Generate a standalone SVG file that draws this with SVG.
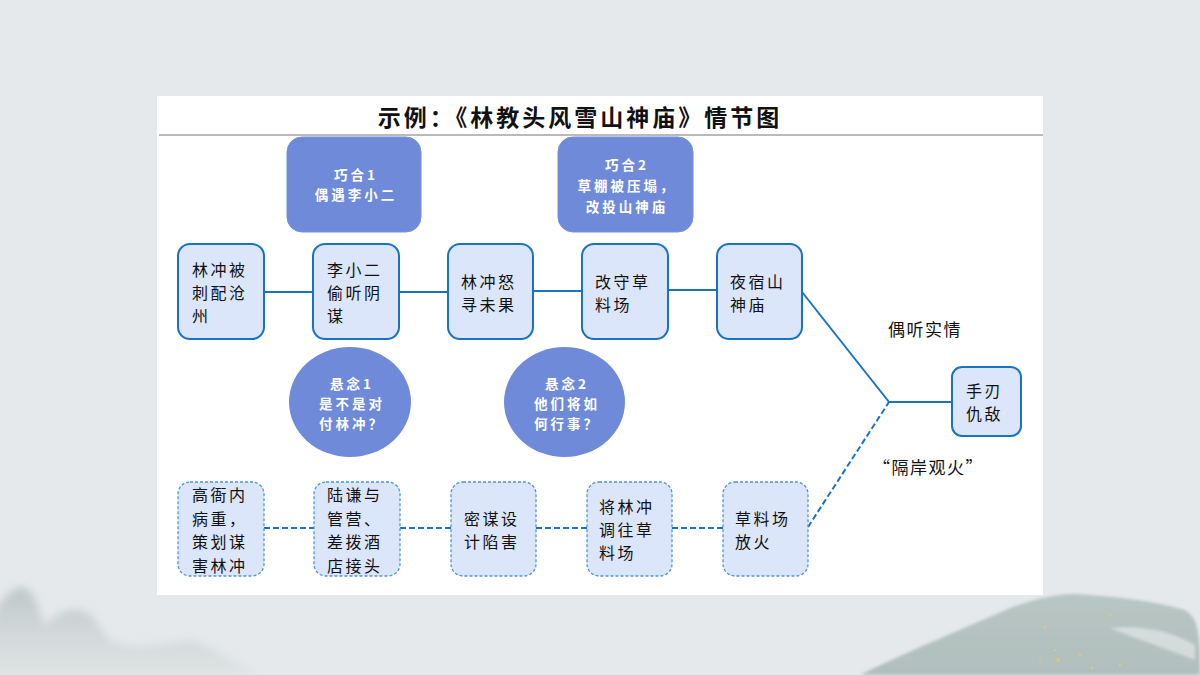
<svg xmlns="http://www.w3.org/2000/svg" width="1200" height="675" viewBox="0 0 1200 675">
<defs>
<style>
.t{font-family:"Noto Sans CJK SC","Liberation Serif",sans-serif;}
.node{fill:#dce6fb;stroke:#1a73c2;stroke-width:2;}
.dnode{fill:#dce6fb;stroke:#4a97d8;stroke-width:1.3;stroke-dasharray:3 2;}
.nt{font-family:"Noto Sans CJK SC",sans-serif;font-size:16px;letter-spacing:2.5px;fill:#111;}
.pur{fill:#6f8ad9;stroke:#7590dc;stroke-width:1;}
.pt{font-family:"Noto Sans CJK SC",sans-serif;font-size:13.5px;letter-spacing:3px;font-weight:bold;fill:#fff;text-anchor:middle;}
.ln{stroke:#1a73c2;stroke-width:2;fill:none;}
.dl{stroke:#1a73c2;stroke-width:2;fill:none;stroke-dasharray:6 3;}
.lab{font-family:"Noto Sans CJK SC",sans-serif;font-size:17px;letter-spacing:1.5px;fill:#111;}
</style>
<linearGradient id="mtn" x1="0" y1="0" x2="0" y2="1">
<stop offset="0" stop-color="#b8c3c3" stop-opacity="0.9"/>
<stop offset="1" stop-color="#d6dcdc" stop-opacity="0.5"/>
</linearGradient>
<linearGradient id="mtn2" x1="0" y1="0" x2="0" y2="1">
<stop offset="0" stop-color="#a9bab7"/>
<stop offset="1" stop-color="#9fb1ad"/>
</linearGradient>
<filter id="soft" x="-10%" y="-20%" width="120%" height="140%"><feGaussianBlur stdDeviation="4"/></filter>
<filter id="soft2" x="-10%" y="-20%" width="120%" height="140%"><feGaussianBlur stdDeviation="1.5"/></filter>
</defs>
<rect width="1200" height="675" fill="#e6e9eb"/>
<g id="background">
<path d="M-10 675 L-5 610 C5 595 15 585 25 588 C35 592 38 610 45 625 C55 615 65 608 80 610 C95 613 100 630 110 640 C130 650 160 645 190 640 C210 645 230 660 260 675 Z" fill="url(#mtn)" filter="url(#soft)"/>
<path d="M860 675 C900 655 960 630 1010 608 C1040 597 1060 594 1075 594 C1110 596 1150 600 1185 610 C1200 618 1200 640 1200 675 Z" fill="url(#mtn2)" opacity="0.75" filter="url(#soft2)"/>
<path d="M1110 628 C1140 625 1170 630 1195 645 L1195 660 C1170 650 1140 640 1110 628 Z" fill="#dde3e3" opacity="0.8" filter="url(#soft2)"/>
<g fill="#e8c77a" opacity="0.8">
<circle cx="1045" cy="627" r="1.5"/><circle cx="1055" cy="650" r="1.2"/><circle cx="1058" cy="660" r="2"/><circle cx="1080" cy="655" r="1.3"/><circle cx="1110" cy="615" r="1.5"/><circle cx="1092" cy="668" r="1.4"/><circle cx="1040" cy="662" r="1.1"/><circle cx="1120" cy="665" r="1.2"/>
</g>
</g>
<rect x="157" y="96" width="886" height="499" fill="#ffffff"/>
<line x1="159" y1="135" x2="1043" y2="135" stroke="#777" stroke-width="1.2"/>
<text class="t" x="580" y="126" font-size="23" letter-spacing="3" font-weight="bold" text-anchor="middle" fill="#111">示例：《林教头风雪山神庙》情节图</text>

<g id="connectors">
<line class="ln" x1="264" y1="292" x2="313" y2="292"/>
<line class="ln" x1="399" y1="292" x2="448" y2="292"/>
<line class="ln" x1="533" y1="291" x2="582" y2="291"/>
<line class="ln" x1="668" y1="290" x2="717" y2="290"/>
<line class="ln" x1="802" y1="292" x2="889" y2="402"/>
<line class="ln" x1="889" y1="402" x2="952" y2="402"/>
<line class="dl" x1="264" y1="528" x2="314" y2="528"/>
<line class="dl" x1="400" y1="528" x2="451" y2="528"/>
<line class="dl" x1="536" y1="528" x2="587" y2="528"/>
<line class="dl" x1="672" y1="528" x2="723" y2="528"/>
<line class="dl" x1="808" y1="527" x2="889" y2="402"/>
</g>

<g id="qiaohe1">
<rect class="pur" x="287" y="137" width="134" height="95" rx="15"/>
<text class="pt" x="356" y="180">巧合1</text>
<text class="pt" x="356" y="200">偶遇李小二</text>
</g>
<g id="qiaohe2">
<rect class="pur" x="558" y="137" width="135" height="95" rx="15"/>
<text class="pt" x="627" y="170">巧合2</text>
<text class="pt" x="627" y="191">草棚被压塌，</text>
<text class="pt" x="627" y="212">改投山神庙</text>
</g>

<g id="n1">
<rect class="node" x="178" y="244" width="86" height="95" rx="12"/>
<text class="nt"><tspan x="192" y="276">林冲被</tspan><tspan x="192" y="299">刺配沧</tspan><tspan x="192" y="322">州</tspan></text>
</g>
<g id="n2">
<rect class="node" x="313" y="244" width="86" height="95" rx="12"/>
<text class="nt"><tspan x="327" y="276">李小二</tspan><tspan x="327" y="299">偷听阴</tspan><tspan x="327" y="322">谋</tspan></text>
</g>
<g id="n3">
<rect class="node" x="448" y="244" width="85" height="95" rx="12"/>
<text class="nt"><tspan x="461" y="288">林冲怒</tspan><tspan x="461" y="311">寻未果</tspan></text>
</g>
<g id="n4">
<rect class="node" x="582" y="244" width="86" height="95" rx="12"/>
<text class="nt"><tspan x="595" y="288">改守草</tspan><tspan x="595" y="311">料场</tspan></text>
</g>
<g id="n5">
<rect class="node" x="717" y="244" width="85" height="95" rx="12"/>
<text class="nt"><tspan x="730" y="288">夜宿山</tspan><tspan x="730" y="311">神庙</tspan></text>
</g>

<g id="xuannian1">
<ellipse cx="350" cy="402" rx="61" ry="55" fill="#6f8ad9"/>
<text class="pt" x="352" y="389">悬念1</text>
<text class="pt" x="352" y="409">是不是对</text>
<text class="pt" x="352" y="429">付林冲？</text>
</g>
<g id="xuannian2">
<ellipse cx="564.5" cy="402" rx="60.5" ry="55" fill="#6f8ad9"/>
<text class="pt" x="567" y="389">悬念2</text>
<text class="pt" x="567" y="409">他们将如</text>
<text class="pt" x="567" y="429">何行事？</text>
</g>

<g id="b1">
<rect class="dnode" x="178" y="482" width="86" height="94" rx="12"/>
<text class="nt"><tspan x="192" y="501">高衙内</tspan><tspan x="192" y="524.5">病重，</tspan><tspan x="192" y="548">策划谋</tspan><tspan x="192" y="571.5">害林冲</tspan></text>
</g>
<g id="b2">
<rect class="dnode" x="314" y="482" width="86" height="94" rx="12"/>
<text class="nt"><tspan x="327" y="501">陆谦与</tspan><tspan x="327" y="524.5">管营、</tspan><tspan x="327" y="548">差拨酒</tspan><tspan x="327" y="571.5">店接头</tspan></text>
</g>
<g id="b3">
<rect class="dnode" x="451" y="482" width="85" height="94" rx="12"/>
<text class="nt"><tspan x="464" y="525">密谋设</tspan><tspan x="464" y="548">计陷害</tspan></text>
</g>
<g id="b4">
<rect class="dnode" x="587" y="482" width="85" height="94" rx="12"/>
<text class="nt"><tspan x="599" y="513">将林冲</tspan><tspan x="599" y="536">调往草</tspan><tspan x="599" y="559">料场</tspan></text>
</g>
<g id="b5">
<rect class="dnode" x="723" y="482" width="85" height="94" rx="12"/>
<text class="nt"><tspan x="735" y="525">草料场</tspan><tspan x="735" y="548">放火</tspan></text>
</g>

<g id="end">
<rect class="node" x="952" y="367" width="69" height="69" rx="10"/>
<text class="nt"><tspan x="966" y="397">手刃</tspan><tspan x="966" y="420">仇敌</tspan></text>
</g>

<text class="lab" x="888" y="336">偶听实情</text>
<text class="lab" x="873" y="474">“隔岸观火”</text>
</svg>
